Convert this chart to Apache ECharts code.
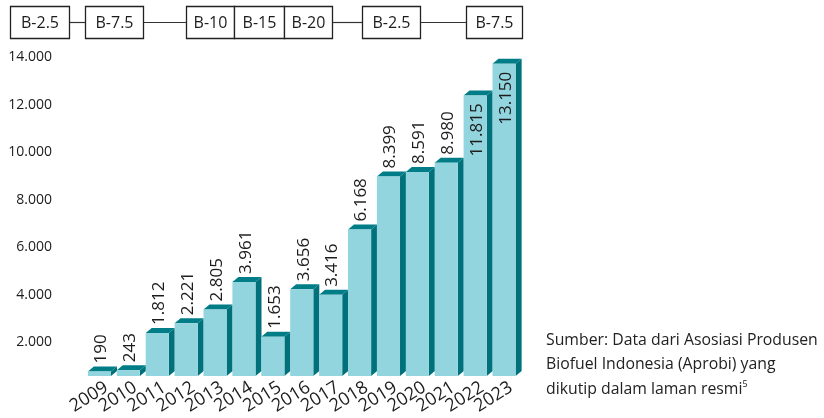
<!DOCTYPE html>
<html>
<head>
<meta charset="utf-8">
<script src="https://cdn.jsdelivr.net/npm/echarts@6/dist/echarts.min.js"></script>
<style>
  html, body { margin: 0; padding: 0; background: #ffffff; }
  #chart { width: 824px; height: 418px; }
</style>
</head>
<body>
<div id="chart"></div>
<script>
// Biodiesel production per year (thousand kL)
const years = ['2009', '2010', '2011', '2012', '2013', '2014', '2015', '2016',
               '2017', '2018', '2019', '2020', '2021', '2022', '2023'];
const production = [190, 243, 1812, 2221, 2805, 3961, 1653, 3656,
                    3416, 6168, 8399, 8591, 8980, 11815, 13150];
const yTicks = [2000, 4000, 6000, 8000, 10000, 12000, 14000];
// Blending mandates shown across the top
const mandates = ['B-2.5', 'B-7.5', 'B-10', 'B-15', 'B-20', 'B-2.5', 'B-7.5'];
const sourceLines = [
  'Sumber: Data dari Asosiasi Produsen',
  'Biofuel Indonesia (Aprobi) yang',
  'dikutip dalam laman resmi'
];
const sourceNote = '5';

// Layout of the mandate boxes (left, right in px)
const mandateLayout = [[10, 69], [85, 143], [186, 234], [234, 284], [284, 332], [362, 420], [466, 522]];

const FRONT = '#93d5df';
const TOP = '#007d86';
const SIDE = '#00717a';
const INK = '#1c1c1c';
const FONT = '"Open Sans", "Noto Sans", sans-serif';
const BAR_SHIFT = -7;   // bars sit a little left of the label anchor

const fmt = v => String(v).replace(/\B(?=(\d{3})+(?!\d))/g, '.');

const chart = echarts.init(document.getElementById('chart'), null, { renderer: 'canvas' });

// Mandate boxes, connecting rule and source note
const graphics = [];
for (let i = 0; i < mandateLayout.length - 1; i++) {
  const a = mandateLayout[i][1], b = mandateLayout[i + 1][0];
  if (b > a) {
    graphics.push({ type: 'line', shape: { x1: a, y1: 22.5, x2: b, y2: 22.5 },
      style: { stroke: '#333', lineWidth: 1.2 }, z: 1 });
  }
}
mandates.forEach((m, i) => {
  const [l, r] = mandateLayout[i];
  graphics.push({ type: 'rect', shape: { x: l + 0.5, y: 6.5, width: r - l, height: 32 },
    style: { fill: '#fff', stroke: '#222', lineWidth: 1.3 }, z: 2 });
  graphics.push({ type: 'text', x: (l + r) / 2 + 0.5, y: 23,
    style: { text: m, font: '16px ' + FONT, fill: INK, align: 'center', verticalAlign: 'middle' }, z: 3 });
});
graphics.push({
  type: 'text', x: 546, y: 328,
  style: {
    text: sourceLines[0] + '\n' + sourceLines[1] + '\n' + sourceLines[2] + '{sup|' + sourceNote + '}',
    font: '15.8px ' + FONT, fill: '#222', lineHeight: 24.5, align: 'left', verticalAlign: 'top',
    rich: { sup: { fontSize: 9, fontFamily: FONT, fill: '#222', padding: [0, 0, 9, 0] } }
  }
});

function renderBar(params, api) {
  const idx = api.value(0);
  const v = api.value(1);
  const base = api.coord([idx, 0]);
  const top = api.coord([idx, v]);
  const band = api.size([1, 0])[0];
  const w = band * 0.8;
  const dx = 6, dy = 5;
  const x0 = base[0] + BAR_SHIFT - w / 2;
  const yT = top[1], yB = base[1];
  const inside = v > 11000;
  return {
    type: 'group',
    children: [
      { type: 'polygon', shape: { points: [[x0 + w, yT], [x0 + w + dx, yT - dy], [x0 + w + dx, yB - dy], [x0 + w, yB]] },
        style: { fill: SIDE } },
      { type: 'polygon', shape: { points: [[x0, yT], [x0 + dx, yT - dy], [x0 + w + dx, yT - dy], [x0 + w, yT]] },
        style: { fill: TOP } },
      { type: 'rect', shape: { x: x0, y: yT, width: w, height: yB - yT },
        style: { fill: FRONT } },
      { type: 'text', x: x0 + w / 2 + 2, y: inside ? yT + 8 : yT - 8, rotation: Math.PI / 2,
        style: { text: fmt(v), font: '17px ' + FONT, fill: INK,
                 align: inside ? 'right' : 'left', verticalAlign: 'middle' } }
    ]
  };
}

chart.setOption({
  animation: false,
  backgroundColor: '#ffffff',
  grid: { left: 92, right: 298.5, top: 43.5, bottom: 42, containLabel: false },
  xAxis: {
    type: 'category',
    data: years,
    axisLine: { show: false },
    axisTick: { show: false },
    axisLabel: { rotate: 32, interval: 0, margin: 10, color: INK, fontSize: 18, fontFamily: FONT }
  },
  yAxis: {
    type: 'value',
    min: 0,
    max: yTicks[yTicks.length - 1],
    interval: yTicks[1] - yTicks[0],
    axisLine: { show: false },
    axisTick: { show: false },
    splitLine: { show: false },
    axisLabel: {
      margin: 40, color: INK, fontSize: 14, fontFamily: FONT,
      verticalAlign: 'top', lineHeight: 28,
      formatter: v => (yTicks.indexOf(v) >= 0 ? fmt(v) : '')
    }
  },
  series: [{
    type: 'custom',
    renderItem: renderBar,
    encode: { x: 0, y: 1 },
    data: production.map((v, i) => [i, v]),
    clip: false
  }],
  graphic: graphics
});
</script>
</body>
</html>
